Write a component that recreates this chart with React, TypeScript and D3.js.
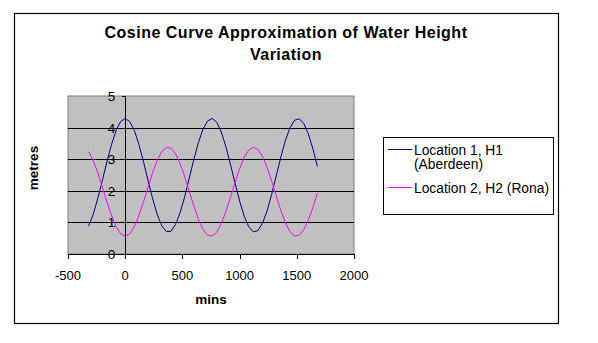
import React from "react";
import * as d3 from "d3";

const mins = [-320, -280, -240, -200, -160, -120, -80, -40, 0, 40, 80, 120, 160, 200, 240, 280, 320, 360, 400, 440, 480, 520, 560, 600, 640, 680, 720, 760, 800, 840, 880, 920, 960, 1000, 1040, 1080, 1120, 1160, 1200, 1240, 1280, 1320, 1360, 1400, 1440, 1480, 1520, 1560, 1600, 1640, 1680];

const aberdeen = [0.89, 1.25, 1.75, 2.32, 2.92, 3.46, 3.91, 4.19, 4.29, 4.19, 3.91, 3.46, 2.92, 2.32, 1.75, 1.25, 0.89, 0.71, 0.72, 0.93, 1.31, 1.81, 2.40, 2.99, 3.53, 3.95, 4.21, 4.29, 4.17, 3.86, 3.40, 2.84, 2.25, 1.68, 1.20, 0.86, 0.70, 0.74, 0.97, 1.36, 1.88, 2.47, 3.06, 3.59, 3.99, 4.23, 4.28, 4.14, 3.81, 3.34, 2.77];

const rona = [3.24, 2.96, 2.58, 2.12, 1.65, 1.22, 0.87, 0.64, 0.56, 0.64, 0.87, 1.22, 1.65, 2.12, 2.58, 2.96, 3.24, 3.37, 3.35, 3.17, 2.86, 2.45, 1.98, 1.52, 1.10, 0.78, 0.60, 0.57, 0.69, 0.96, 1.34, 1.79, 2.26, 2.70, 3.06, 3.29, 3.38, 3.31, 3.09, 2.74, 2.31, 1.84, 1.38, 0.99, 0.71, 0.57, 0.59, 0.76, 1.07, 1.47, 1.93];

const xTicks = [-500, 0, 500, 1000, 1500, 2000];
const yTicks = [0, 1, 2, 3, 4, 5];
const seriesNames = ["Location 1, H1", "(Aberdeen)", "Location 2, H2 (Rona)"];
const titleLines = ["Cosine Curve Approximation of Water Height", "Variation"];

const FONT = "Arial, 'Liberation Sans', sans-serif";

export default function App() {
  const left = 68, right = 354, top = 96, bottom = 254;
  const x = d3.scaleLinear().domain([-500, 2000]).range([left, right]);
  const y = d3.scaleLinear().domain([0, 5]).range([bottom, top]);
  const line = d3
    .line<number>()
    .x((_, i) => x(mins[i]))
    .y((d) => y(d));
  const x0 = x(0);

  return (
    <svg
      width={598}
      height={343}
      style={{ position: "absolute", left: 0, top: 0, background: "#fff" }}
      fontFamily={FONT}
    >
      <rect x={0} y={0} width={598} height={343} fill="#fff" />
      <rect x={14.5} y={13.5} width={544} height={310} fill="#fff" stroke="#000" strokeWidth={1.2} />
      {titleLines.map((t, i) => (
        <text key={i} x={286} y={38 + i * 22} textAnchor="middle" fontSize={16} fontWeight="bold" letterSpacing={0.5}>
          {t}
        </text>
      ))}
      <rect x={left} y={top} width={right - left} height={bottom - top} fill="#c0c0c0" stroke="#808080" strokeWidth={1} />
      {yTicks.filter((t) => t > 0 && t < 5).map((t) => (
        <line key={t} x1={left} x2={right} y1={Math.round(y(t)) + 0.5} y2={Math.round(y(t)) + 0.5} stroke="#000" strokeWidth={1} />
      ))}
      <line x1={Math.round(x0) + 0.5} x2={Math.round(x0) + 0.5} y1={top} y2={bottom} stroke="#000" />
      {yTicks.map((t) => (
        <line key={"yt" + t} x1={Math.round(x0) - 3} x2={Math.round(x0) + 0.5} y1={Math.round(y(t)) + 0.5} y2={Math.round(y(t)) + 0.5} stroke="#000" />
      ))}
      {yTicks.map((t) => (
        <text key={"yl" + t} x={x0 - 10} y={y(t) + 5} textAnchor="end" fontSize={13.5}>
          {t}
        </text>
      ))}
      <line x1={left} x2={right} y1={bottom + 0.5} y2={bottom + 0.5} stroke="#000" />
      {xTicks.map((t) => (
        <line key={"xt" + t} x1={Math.round(x(t)) + 0.5} x2={Math.round(x(t)) + 0.5} y1={bottom} y2={bottom + 5} stroke="#000" />
      ))}
      {xTicks.map((t) => (
        <text key={"xl" + t} x={x(t)} y={280} textAnchor="middle" fontSize={13}>
          {t}
        </text>
      ))}
      <text x={211} y={304} textAnchor="middle" fontSize={13.5} fontWeight="bold">mins</text>
      <text transform="translate(38,168) rotate(-90)" textAnchor="middle" fontSize={13.5} fontWeight="bold">metres</text>
      <path d={line(aberdeen) || ""} fill="none" stroke="#000080" strokeWidth={1} />
      <path d={line(rona) || ""} fill="none" stroke="#ff00ff" strokeWidth={1} />
      <rect x={383.5} y={137.5} width={170} height={77} fill="#fff" stroke="#000" />
      <line x1={388} x2={412} y1={149.5} y2={149.5} stroke="#000080" />
      <text x={414} y={154.5} fontSize={13.8}>{seriesNames[0]}</text>
      <text x={414} y={169} fontSize={13.8}>{seriesNames[1]}</text>
      <line x1={388} x2={412} y1={187.5} y2={187.5} stroke="#ff00ff" />
      <text x={414} y={192.5} fontSize={13.8}>{seriesNames[2]}</text>
    </svg>
  );
}
